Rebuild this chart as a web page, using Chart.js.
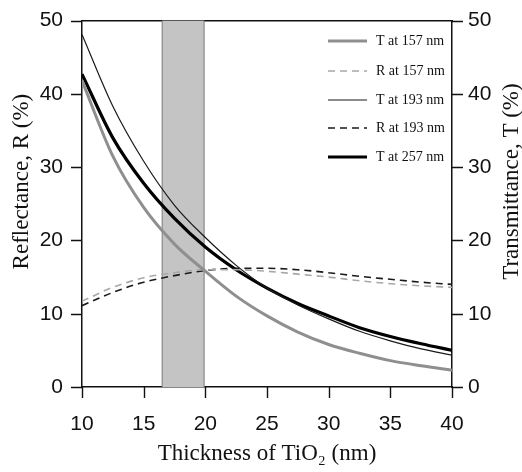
<!DOCTYPE html>
<html>
<head>
<meta charset="utf-8">
<script src="https://cdn.jsdelivr.net/npm/chart.js@4.4.1/dist/chart.umd.min.js"></script>
<style>
  html, body { margin: 0; padding: 0; background: #fff; }
  #wrap { width: 522px; height: 472px; }
</style>
</head>
<body>
<div id="wrap"><canvas id="chart" width="522" height="472"></canvas></div>
<script>
// thickness of TiO2 (nm)
const thickness = [10, 12.5, 15, 17.5, 20, 22.5, 25, 27.5, 30, 32.5, 35, 37.5, 40];

// values (%)
const t157 = [41.8, 31.5, 24.5, 19.5, 15.8, 12.4, 9.7, 7.5, 5.8, 4.6, 3.6, 2.9, 2.3];
const r157 = [11.7, 13.6, 14.9, 15.6, 16.0, 16.0, 15.8, 15.4, 15.0, 14.5, 14.1, 13.8, 13.6];
const t193 = [48.1, 38.3, 30.8, 24.8, 20.4, 16.6, 13.5, 11.2, 9.3, 7.6, 6.3, 5.2, 4.35];
const r193 = [11.1, 12.9, 14.3, 15.2, 15.9, 16.2, 16.2, 16.0, 15.6, 15.1, 14.7, 14.3, 14.0];
const t257 = [42.7, 34.0, 27.8, 23.0, 19.1, 16.0, 13.5, 11.4, 9.7, 8.1, 6.9, 5.9, 5.0];

const xTicks = [10, 15, 20, 25, 30, 35, 40];
const yTicks = [0, 10, 20, 30, 40, 50];
const band = [16.5, 19.9]; // shaded thickness range

const leftTitle = 'Reflectance, R (%)';
const rightTitle = 'Transmittance, T (%)';

const pts = (ys) => thickness.map((x, i) => ({ x: x, y: ys[i] }));

const serif = '"Liberation Serif", "Times New Roman", serif';
const sans = '"Liberation Sans", Arial, sans-serif';
const TICK = 11;

// grey band behind the curves
const bandPlugin = {
    id: 'band',
    beforeDatasetsDraw(chart) {
        const { ctx, chartArea, scales } = chart;
        const x0 = scales.x.getPixelForValue(band[0]);
        const x1 = scales.x.getPixelForValue(band[1]);
        ctx.save();
        ctx.fillStyle = '#c4c4c4';
        ctx.fillRect(x0, chartArea.top, x1 - x0, chartArea.bottom - chartArea.top);
        ctx.strokeStyle = '#7a7a7a';
        ctx.lineWidth = 1;
        ctx.beginPath();
        ctx.moveTo(x0, chartArea.top); ctx.lineTo(x0, chartArea.bottom);
        ctx.moveTo(x1, chartArea.top); ctx.lineTo(x1, chartArea.bottom);
        ctx.stroke();
        ctx.restore();
    }
};

// outward tick marks, legend inside the plot, vertical axis titles (read bottom to top)
const extrasPlugin = {
    id: 'extras',
    afterDraw(chart) {
        const { ctx, chartArea, scales } = chart;
        ctx.save();
        ctx.strokeStyle = '#111';
        ctx.lineWidth = 1.4;
        ctx.beginPath();
        yTicks.forEach(v => {
            const y = Math.round(scales.y.getPixelForValue(v)) + 0.5;
            ctx.moveTo(chartArea.left - TICK, y); ctx.lineTo(chartArea.left, y);
            ctx.moveTo(chartArea.right, y); ctx.lineTo(chartArea.right + TICK, y);
        });
        xTicks.forEach(v => {
            const x = Math.round(scales.x.getPixelForValue(v)) + 0.5;
            ctx.moveTo(x, chartArea.bottom); ctx.lineTo(x, chartArea.bottom + TICK);
        });
        ctx.stroke();

        const rows = [41, 71, 100, 128, 157];
        ctx.font = '14px ' + serif;
        ctx.textBaseline = 'middle';
        ctx.fillStyle = '#111';
        chart.data.datasets.forEach((ds, i) => {
            const y = rows[i];
            ctx.strokeStyle = ds.borderColor;
            ctx.lineWidth = ds.borderWidth;
            ctx.setLineDash(ds.borderDash || []);
            ctx.beginPath();
            ctx.moveTo(chartArea.right - 124, y);
            ctx.lineTo(chartArea.right - 85, y);
            ctx.stroke();
            ctx.setLineDash([]);
            ctx.fillText(ds.label, chartArea.right - 76, y);
        });

        ctx.font = '23px ' + serif;
        ctx.textAlign = 'center';
        const midY = chartArea.top + 161;
        [[22, leftTitle], [chart.width - 10, rightTitle]].forEach(([x, text]) => {
            ctx.save();
            ctx.translate(x, midY);
            ctx.rotate(-Math.PI / 2);
            ctx.fillText(text, 0, 0);
            ctx.restore();
        });
        ctx.restore();
    }
};

// grid kept (transparent) so the tick labels leave room for the tick marks
const axisGrid = () => ({ display: true, drawOnChartArea: false, drawTicks: true, tickLength: TICK, color: 'rgba(0,0,0,0)' });
const axisBorder = () => ({ display: true, color: '#111', width: 1.5 });

new Chart(document.getElementById('chart').getContext('2d'), {
    type: 'line',
    data: {
        datasets: [
            { label: 'T at 157 nm', data: pts(t157), borderColor: '#8f8f8f', borderWidth: 3, yAxisID: 'y2' },
            { label: 'R at 157 nm', data: pts(r157), borderColor: '#a8a8a8', borderWidth: 1.6, borderDash: [7, 5], yAxisID: 'y' },
            { label: 'T at 193 nm', data: pts(t193), borderColor: '#1a1a1a', borderWidth: 1.2, yAxisID: 'y2' },
            { label: 'R at 193 nm', data: pts(r193), borderColor: '#1a1a1a', borderWidth: 1.6, borderDash: [7, 5], yAxisID: 'y' },
            { label: 'T at 257 nm', data: pts(t257), borderColor: '#000', borderWidth: 3.2, yAxisID: 'y2' }
        ]
    },
    options: {
        responsive: false,
        animation: false,
        layout: { padding: 0 },
        elements: {
            point: { radius: 0 },
            line: { cubicInterpolationMode: 'monotone', fill: false }
        },
        plugins: {
            legend: { display: false },
            tooltip: { enabled: false }
        },
        scales: {
            x: {
                type: 'linear', position: 'bottom', min: 10, max: 40,
                afterBuildTicks: (s) => { s.ticks = xTicks.map(v => ({ value: v })); },
                afterFit: (s) => { s.height = 85; },
                grid: axisGrid(), border: axisBorder(),
                ticks: { color: '#111', font: { family: sans, size: 21 }, padding: 14 },
                title: { display: true, text: 'Thickness of TiO₂ (nm)', color: '#111', font: { family: serif, size: 23 }, padding: { top: 0 } }
            },
            xTop: {
                type: 'linear', position: 'top', min: 10, max: 40,
                afterFit: (s) => { s.height = 19; },
                grid: { display: false }, border: axisBorder(),
                ticks: { display: false }
            },
            y: {
                type: 'linear', position: 'left', min: 0, max: 50,
                afterBuildTicks: (s) => { s.ticks = yTicks.map(v => ({ value: v })); },
                afterFit: (s) => { s.width = 82; },
                grid: axisGrid(), border: axisBorder(),
                ticks: { color: '#111', font: { family: sans, size: 21 }, padding: 8 }
            },
            y2: {
                type: 'linear', position: 'right', min: 0, max: 50,
                afterBuildTicks: (s) => { s.ticks = yTicks.map(v => ({ value: v })); },
                afterFit: (s) => { s.width = 70; },
                grid: axisGrid(), border: axisBorder(),
                ticks: { color: '#111', font: { family: sans, size: 21 }, padding: 5 }
            }
        }
    },
    plugins: [bandPlugin, extrasPlugin]
});
</script>
</body>
</html>
